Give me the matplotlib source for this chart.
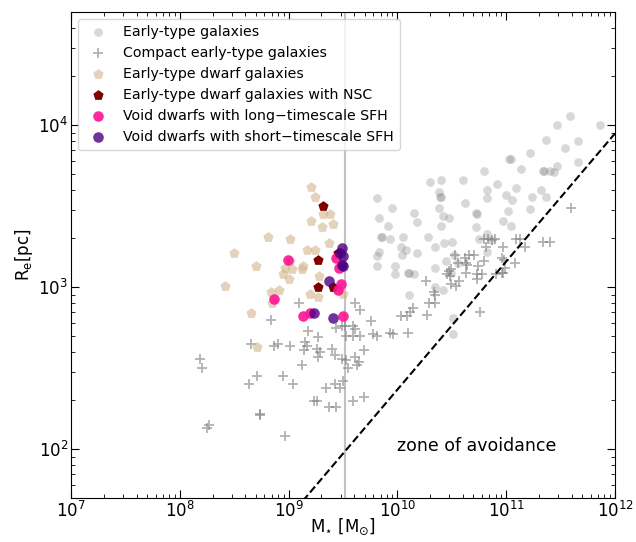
import numpy as np
import matplotlib
matplotlib.use('Agg')
import matplotlib.pyplot as plt

# values, stored as log10(M*/Msun) and log10(Re/pc)

# early-type galaxies
etg_logm = np.array([11.59, 11.47, 11.86, 11.37, 11.66, 11.54, 11.22, 11.66, 11.03, 11.04,
                     11.47, 11.14, 11.34, 11.35, 11.40, 11.44, 10.80, 10.30, 10.40, 10.60,
                     10.92, 11.09, 10.82, 11.32, 10.38, 10.39, 10.40, 11.00, 10.82, 11.24,
                     11.37, 9.81, 11.05, 10.62, 9.95, 10.38, 10.15, 11.02, 11.22, 10.72,
                     10.73, 9.83, 10.42, 10.47, 10.18, 9.91, 10.40, 10.97, 11.04, 10.72,
                     9.85, 9.86, 9.93, 10.05, 10.28, 10.50, 10.43, 10.35, 10.03, 10.08,
                     9.83, 10.18, 9.81, 10.04, 10.75, 10.82, 10.82, 10.52, 9.81, 9.98,
                     9.98, 10.10, 10.11, 10.15, 10.35, 10.45, 10.56, 10.49, 10.11, 10.35,
                     10.42, 10.51, 10.51, 10.86])
etg_logr = np.array([4.06, 4.00, 4.00, 3.91, 3.90, 3.86, 3.83, 3.77, 3.79, 3.79,
                     3.75, 3.73, 3.72, 3.72, 3.72, 3.71, 3.72, 3.65, 3.66, 3.66,
                     3.64, 3.61, 3.60, 3.60, 3.59, 3.56, 3.56, 3.57, 3.55, 3.56,
                     3.56, 3.55, 3.54, 3.52, 3.49, 3.49, 3.46, 3.47, 3.48, 3.46,
                     3.45, 3.43, 3.44, 3.43, 3.40, 3.38, 3.38, 3.41, 3.38, 3.37,
                     3.31, 3.31, 3.30, 3.31, 3.31, 3.28, 3.27, 3.25, 3.25, 3.23,
                     3.22, 3.21, 3.19, 3.20, 3.30, 3.33, 3.22, 3.20, 3.13, 3.13,
                     3.08, 3.09, 3.09, 3.08, 3.12, 3.16, 3.15, 3.09, 2.95, 3.00,
                     2.98, 2.81, 2.71, 3.29])

# compact early-type galaxies
ce_logm = np.array([11.60, 11.34, 11.40, 11.09, 11.13, 11.17, 10.97, 10.90, 10.80, 10.83,
                    10.87, 10.81, 10.66, 10.70, 10.62, 10.63, 10.64, 10.98, 10.80, 11.08,
                    10.74, 10.53, 10.56, 10.47, 10.49, 10.46, 10.48, 10.63, 10.73, 10.78,
                    10.73, 10.91, 10.97, 10.57, 10.54, 10.49, 10.26, 10.34, 10.35, 10.29,
                    10.35, 10.14, 10.12, 10.03, 10.09, 10.27, 10.76, 9.61, 9.66, 10.96,
                    10.99, 10.96,
                    9.76, 9.52, 9.59, 9.61, 9.78, 9.81, 9.93, 9.96, 10.10, 9.53,
                    9.59, 9.66, 9.44, 9.49, 9.53, 9.55, 9.61, 9.69, 9.63, 9.65,
                    9.59, 9.69,
                    9.10, 8.84, 9.18, 9.27, 8.65, 8.87, 8.90, 9.01, 9.15, 9.17,
                    9.14, 9.26, 9.29, 9.27, 9.40, 9.43, 9.49, 8.19, 8.20, 9.12,
                    8.71, 8.64, 8.95, 9.04, 9.34, 9.43, 9.47, 9.50, 9.23, 9.26,
                    9.37, 9.44, 8.74, 8.74, 8.27, 8.25, 8.97])
ce_logr = np.array([3.49, 3.28, 3.28, 3.30, 3.30, 3.25, 3.25, 3.30, 3.30, 3.30,
                    3.29, 3.25, 3.20, 3.20, 3.18, 3.15, 3.14, 3.17, 3.16, 3.15,
                    3.13, 3.20, 3.15, 3.10, 3.11, 3.08, 3.07, 3.09, 3.08, 3.08,
                    3.05, 3.08, 3.09, 3.04, 3.01, 3.02, 3.04, 2.97, 2.95, 2.90,
                    2.90, 2.87, 2.85, 2.82, 2.82, 2.83, 2.85, 2.90, 2.86, 3.18,
                    3.12, 3.09,
                    2.79, 2.76, 2.76, 2.74, 2.71, 2.70, 2.72, 2.71, 2.72, 2.70,
                    2.70, 2.70, 2.75, 2.76, 2.55, 2.50, 2.57, 2.61, 2.52, 2.54,
                    2.30, 2.32,
                    2.90, 2.80, 2.73, 2.69, 2.65, 2.64, 2.65, 2.64, 2.66, 2.64,
                    2.61, 2.62, 2.60, 2.57, 2.62, 2.58, 2.56, 2.56, 2.50, 2.52,
                    2.45, 2.40, 2.45, 2.40, 2.38, 2.40, 2.38, 2.42, 2.30, 2.30,
                    2.26, 2.26, 2.22, 2.21, 2.15, 2.13, 2.08])

# early-type dwarfs
de_logm = np.array([9.21, 9.24, 9.38, 9.32, 9.21, 9.41, 9.31, 8.81, 9.01, 9.37,
                    9.17, 9.24, 8.50, 8.70, 9.01, 8.97, 9.03, 9.13, 9.12, 8.95,
                    9.00, 9.28, 8.42, 8.91, 8.84, 8.85, 9.20, 9.27, 9.50, 8.65,
                    8.71])
de_logr = np.array([3.62, 3.56, 3.45, 3.45, 3.41, 3.39, 3.37, 3.31, 3.30, 3.27,
                    3.23, 3.23, 3.21, 3.13, 3.16, 3.12, 3.11, 3.13, 3.11, 3.08,
                    3.05, 3.07, 3.01, 2.98, 2.97, 2.90, 2.96, 2.94, 2.96, 2.84,
                    2.63])

# early-type dwarfs with nuclear star cluster
nsc_logm = np.array([9.32, 9.27, 9.27, 9.41, 9.45])
nsc_logr = np.array([3.50, 3.17, 3.00, 3.00, 3.21])

# void dwarfs, long-timescale SFH
long_logm = np.array([8.99, 8.87, 9.13, 9.20, 9.50, 9.44, 9.46, 9.48, 9.45])
long_logr = np.array([3.17, 2.93, 2.82, 2.84, 2.82, 3.18, 3.12, 3.02, 2.98])

# void dwarfs, short-timescale SFH
short_logm = np.array([9.49, 9.47, 9.50, 9.49, 9.50, 9.37, 9.23, 9.41])
short_logr = np.array([3.24, 3.21, 3.19, 3.14, 3.13, 3.04, 2.84, 2.81])

# zone of avoidance boundary and mass limit
zoa_m = np.array([1e9, 1e12])
zoa_r = np.array([37.8, 8900.0])
mass_limit = 3.3e9

fig = plt.figure(figsize=(6.36, 5.42), dpi=100)
ax = fig.add_axes([71/636, 44/542, 544/636, 486/542])

ax.scatter(10**etg_logm, 10**etg_logr, s=40, c='gray', alpha=0.3, lw=0,
           label='Early-type galaxies')
ax.scatter(10**ce_logm, 10**ce_logr, s=60, marker='+', c='gray', alpha=0.6, lw=1.3,
           label='Compact early-type galaxies')
ax.scatter(10**de_logm, 10**de_logr, s=60, marker='p', c='tan', alpha=0.6, lw=0,
           label='Early-type dwarf galaxies')
ax.scatter(10**nsc_logm, 10**nsc_logr, s=60, marker='p', c='maroon', lw=0,
           label='Early-type dwarf galaxies with NSC')
ax.scatter(10**long_logm, 10**long_logr, s=58, c='deeppink', alpha=0.9, lw=0,
           label='Void dwarfs with long\u2212timescale SFH')
ax.scatter(10**short_logm, 10**short_logr, s=58, c='indigo', alpha=0.8, lw=0,
           label='Void dwarfs with short\u2212timescale SFH')

ax.axvline(mass_limit, color='darkgray', lw=1.5, alpha=0.7, zorder=0)
ax.plot(zoa_m, zoa_r, 'k--', lw=1.5)
ax.text(1.0e10, 105, 'zone of avoidance', fontsize=12.5, ha='left', va='center')

ax.set_xscale('log')
ax.set_yscale('log')
ax.set_xlim(1e7, 1e12)
ax.set_ylim(50, 5e4)
ax.tick_params(which='both', direction='in', top=True, right=True, labelsize=12)
ax.tick_params(which='major', length=6, pad=2)
ax.tick_params(which='minor', length=3)
ax.set_xlabel(r'M$_{\star}$ [M$_{\odot}$]', fontsize=12, labelpad=-3)
ax.set_ylabel(r'R$_{\rm e}$[pc]', fontsize=12, labelpad=2)
ax.legend(loc='upper left', fontsize=10.2, scatterpoints=1, handletextpad=0.8)

plt.savefig('out.png', dpi=100)
